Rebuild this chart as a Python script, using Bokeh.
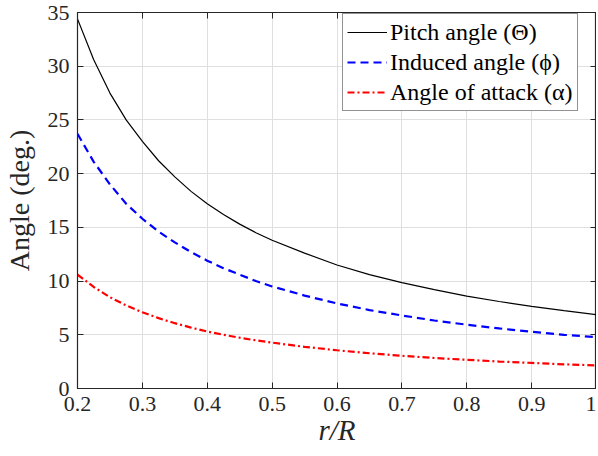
from bokeh.plotting import figure
from bokeh.models import LinearAxis, FixedTicker, Legend, LegendItem
from bokeh.embed import file_html
from bokeh.resources import INLINE

r = [0.2, 0.225, 0.25, 0.275, 0.3, 0.325, 0.35, 0.375, 0.4, 0.425, 0.45, 0.475, 0.5,
     0.55, 0.6, 0.65, 0.7, 0.75, 0.8, 0.85, 0.9, 0.95, 1.0]
pitch = [34.4, 30.6, 27.5, 25.0, 23.0, 21.2, 19.7, 18.35, 17.2, 16.2, 15.3, 14.5, 13.8,
         12.6, 11.5, 10.6, 9.85, 9.2, 8.6, 8.1, 7.65, 7.25, 6.88]
induced = [23.7, 21.1, 19.0, 17.2, 15.8, 14.6, 13.6, 12.7, 11.9, 11.2, 10.6, 10.0, 9.5,
           8.65, 7.92, 7.3, 6.8, 6.33, 5.94, 5.59, 5.28, 5.0, 4.78]
aoa = [10.6, 9.45, 8.5, 7.73, 7.1, 6.55, 6.08, 5.67, 5.3, 5.0, 4.73, 4.48, 4.27,
       3.88, 3.56, 3.28, 3.04, 2.84, 2.67, 2.51, 2.38, 2.25, 2.15]

x_ticks = [0.2, 0.3, 0.4, 0.5, 0.6, 0.7, 0.8, 0.9, 1.0]
y_ticks = [0, 5, 10, 15, 20, 25, 30, 35]
x_labels = ["0.2", "0.3", "0.4", "0.5", "0.6", "0.7", "0.8", "0.9", "1"]

FONT = "Liberation Serif"
AX = "#262626"

p = figure(width=596, height=448, x_range=(0.2, 1.0), y_range=(0, 35),
           output_backend="svg", toolbar_location=None,
           min_border_left=74, min_border_top=12, min_border_right=0, min_border_bottom=40)
p.background_fill_color = "white"
p.border_fill_color = "white"
p.outline_line_color = AX
p.outline_line_width = 1.2

for ax in (p.xaxis[0], p.yaxis[0]):
    ax.axis_line_color = AX
    ax.major_tick_line_color = AX
    ax.major_tick_in = 6
    ax.major_tick_out = 0
    ax.minor_tick_line_color = None
    ax.major_label_text_font = FONT
    ax.major_label_text_font_size = "22px"
    ax.major_label_text_color = AX
    ax.axis_label_text_font = FONT
    ax.axis_label_text_color = AX
    ax.axis_label_text_font_style = "normal"

p.xaxis.ticker = FixedTicker(ticks=x_ticks)
p.yaxis.ticker = FixedTicker(ticks=y_ticks)
p.xaxis.major_label_overrides = {t: s for t, s in zip(x_ticks, x_labels)}
p.xaxis.axis_label = "r/R"
p.xaxis.axis_label_text_font_style = "italic"
p.xaxis.axis_label_text_font_size = "29px"
p.yaxis.axis_label = "Angle (deg.)"
p.yaxis.axis_label_text_font_size = "28px"
p.xaxis.major_label_standoff = 8
p.yaxis.major_label_standoff = 8
p.xaxis.axis_label_standoff = 0
p.yaxis.axis_label_standoff = 10

blank_x = {t: "" for t in x_ticks}
blank_y = {t: "" for t in y_ticks}
top = LinearAxis(ticker=FixedTicker(ticks=x_ticks), major_label_overrides=blank_x,
                 major_label_text_font_size="1px", major_label_standoff=0,
                 major_tick_in=6, major_tick_out=0,
                 minor_tick_line_color=None, axis_line_color=AX, major_tick_line_color=AX)
right = LinearAxis(ticker=FixedTicker(ticks=y_ticks), major_label_overrides=blank_y,
                   major_label_text_font_size="1px", major_label_standoff=0,
                   major_tick_in=6, major_tick_out=0,
                   minor_tick_line_color=None, axis_line_color=AX, major_tick_line_color=AX)
p.add_layout(top, "above")
p.add_layout(right, "right")

p.xgrid.ticker = FixedTicker(ticks=x_ticks)
p.ygrid.ticker = FixedTicker(ticks=y_ticks)
p.grid.grid_line_color = "#dfdfdf"
p.grid.grid_line_width = 1

l1 = p.line(r, pitch, line_color="black", line_width=1.2)
l2 = p.line(r, induced, line_color="#0000ff", line_width=2.2, line_dash="8 5")
l3 = p.line(r, aoa, line_color="#ff0000", line_width=2.2, line_dash="7 3 2 3")

legend = Legend(items=[
    LegendItem(label="Pitch angle (Θ)", renderers=[l1]),
    LegendItem(label="Induced angle (ϕ)", renderers=[l2]),
    LegendItem(label="Angle of attack (α)", renderers=[l3]),
], location=(265, 277))
legend.label_text_font = FONT
legend.label_text_font_size = "24px"
legend.label_text_color = "black"
legend.glyph_width = 40
legend.glyph_height = 28
legend.label_height = 28
legend.label_standoff = 3
legend.spacing = 2
legend.padding = 4
legend.margin = 0
legend.border_line_color = AX
legend.border_line_width = 1.2
legend.background_fill_color = "white"
legend.background_fill_alpha = 1
p.add_layout(legend)

open("out.html", "w").write(file_html(p, INLINE))
